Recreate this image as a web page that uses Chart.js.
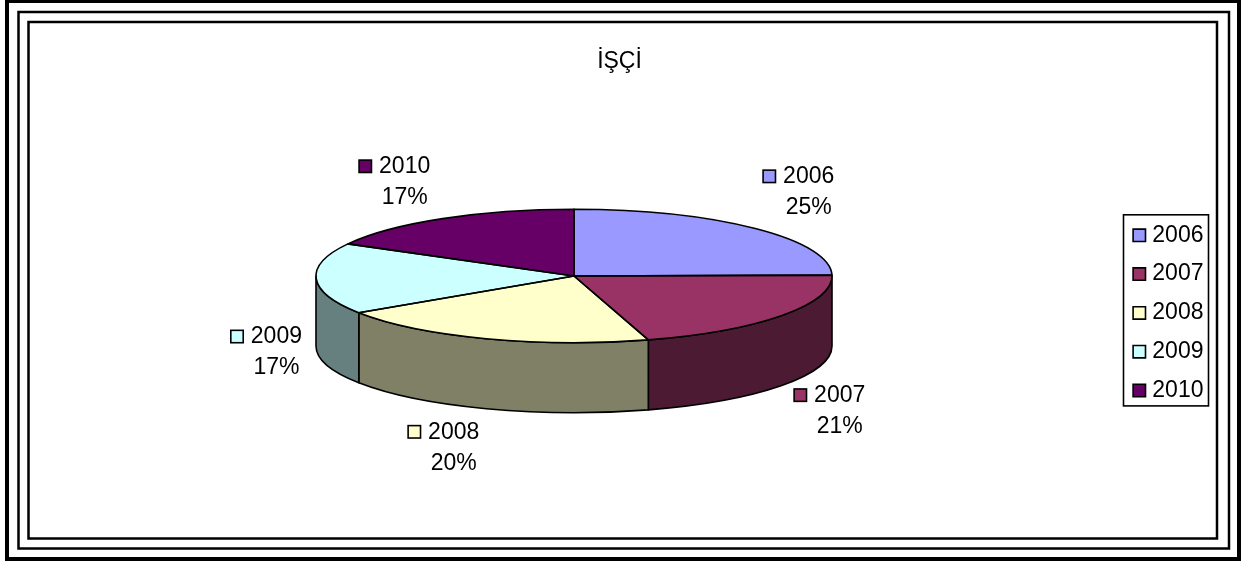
<!DOCTYPE html>
<html>
<head>
<meta charset="utf-8">
<title>İŞÇİ</title>
<script src="https://cdn.jsdelivr.net/npm/chart.js@4"></script>
<style>
  html, body { margin: 0; padding: 0; background: #fff; overflow: hidden; }
  canvas { display: block; }
</style>
</head>
<body>
<canvas id="isciChart" width="1243" height="561"></canvas>
<script>
// DATA
const categories = ['2006', '2007', '2008', '2009', '2010'];
const shares = [24.8, 20.55, 20.35, 17.3, 17];
const sliceColors = ['#9999FF', '#993366', '#FFFFCC', '#CCFFFF', '#660066'];

// label spot relative to the middle of each slice's rim
const labelOffsets = [[7.8, -52.2], [12.1, 79.7], [-78.1, 93.1], [-85.4, 57.8], [-83.6, -52.3]];

const FONT = '"Liberation Sans", Arial, sans-serif';
const FONT_SIZE = 23;
const SQUASH = 66.7 / 258; // pie tilt
const DEPTH = 70;          // pie thickness
const OUTLINE = 1.6;

// three nested frames: left, top, right, bottom, line width
const frames = [
  [7, 1, 1239, 559, 4],
  [18.5, 12, 1229, 548.5, 2.5],
  [28.5, 22, 1217, 538.5, 2.5]
];

// side walls are the slice colour at half brightness
function wallColor(hex) {
  const n = parseInt(hex.slice(1), 16);
  return 'rgb(' + (n >> 16) / 2 + ',' + ((n >> 8) & 255) / 2 + ',' + (n & 255) / 2 + ')';
}

// front part of an arc (canvas angles 0..PI), null if it faces backwards
function frontPart(start, end) {
  const twoPi = Math.PI * 2;
  let s = ((start % twoPi) + twoPi) % twoPi;
  if (s + (end - start) > twoPi) s -= twoPi;
  const e = s + (end - start);
  const a0 = Math.max(s, 0);
  const a1 = Math.min(e, Math.PI);
  return a1 > a0 ? [a0, a1] : null;
}

const pie3d = {
  id: 'pie3d',
  beforeDraw(chart) {
    const ctx = chart.ctx;
    ctx.save();
    ctx.strokeStyle = '#000';
    frames.forEach(f => {
      ctx.lineWidth = f[4];
      ctx.strokeRect(f[0], f[1], f[2] - f[0], f[3] - f[1]);
    });
    ctx.restore();

    // legend and title float free of the plot, as in the original
    const legend = chart.legend;
    legend.left = 1122;
    legend.right = 1243;
    legend.top = 208;
    legend.bottom = 561;
    const title = chart.titleBlock;
    title.left = 0;
    title.right = 1239;
    title.top = 55;
    title.bottom = title.top + title.height;
  },
  beforeDatasetsDraw(chart) {
    const ctx = chart.ctx;
    const arcs = chart.getDatasetMeta(0).data;
    ctx.save();
    ctx.strokeStyle = '#000';
    ctx.lineWidth = OUTLINE;
    ctx.lineJoin = 'round';
    arcs.forEach((arc, i) => {
      const part = frontPart(arc.startAngle, arc.endAngle);
      if (!part) return;
      const rx = arc.outerRadius;
      const ry = rx * SQUASH;
      ctx.beginPath();
      ctx.ellipse(arc.x, arc.y, rx, ry, 0, part[0], part[1]);
      ctx.ellipse(arc.x, arc.y + DEPTH, rx, ry, 0, part[1], part[0], true);
      ctx.closePath();
      ctx.fillStyle = wallColor(sliceColors[i]);
      ctx.fill();
      ctx.stroke();
    });
    ctx.restore();

    // flatten the library's own arcs
    const first = arcs[0];
    ctx.save();
    ctx.translate(first.x, first.y);
    ctx.scale(1, SQUASH);
    ctx.translate(-first.x, -first.y);
  },
  afterDatasetsDraw(chart) {
    const ctx = chart.ctx;
    ctx.restore();
    const arcs = chart.getDatasetMeta(0).data;
    ctx.save();
    ctx.strokeStyle = '#000';
    ctx.lineWidth = OUTLINE;
    ctx.lineJoin = 'round';
    arcs.forEach(arc => {
      const rx = arc.outerRadius;
      ctx.beginPath();
      ctx.moveTo(arc.x, arc.y);
      ctx.ellipse(arc.x, arc.y, rx, rx * SQUASH, 0, arc.startAngle, arc.endAngle);
      ctx.closePath();
      ctx.stroke();
    });
    ctx.restore();
  },
  afterDraw(chart) {
    const ctx = chart.ctx;
    const arcs = chart.getDatasetMeta(0).data;
    const total = shares.reduce((a, b) => a + b, 0);
    ctx.save();

    // legend frame
    ctx.strokeStyle = '#000';
    ctx.lineWidth = 1.6;
    ctx.strokeRect(1123.5, 214.8, 85, 191.1);

    // slice labels: swatch + year, percentage centred below the year
    ctx.font = FONT_SIZE + 'px ' + FONT;
    ctx.fillStyle = '#000';
    ctx.textBaseline = 'middle';
    ctx.textAlign = 'center';
    arcs.forEach((arc, i) => {
      const mid = (arc.startAngle + arc.endAngle) / 2;
      const rimX = arc.x + arc.outerRadius * Math.cos(mid);
      const rimY = arc.y + arc.outerRadius * SQUASH * Math.sin(mid);
      const x = rimX + labelOffsets[i][0];
      const y = rimY + labelOffsets[i][1];

      ctx.fillStyle = sliceColors[i];
      ctx.fillRect(x, y - 6.2, 12.4, 12.4);
      ctx.strokeRect(x, y - 6.2, 12.4, 12.4);

      const textX = x + 20 + ctx.measureText(categories[i]).width / 2;
      ctx.fillStyle = '#000';
      ctx.fillText(categories[i], textX, y + 0.5);
      ctx.fillText(Math.round(shares[i] / total * 100) + '%', textX, y + 31.5);
    });
    ctx.restore();
  }
};

const isciCtx = document.getElementById('isciChart').getContext('2d');
const isciChart = new Chart(isciCtx, {
  type: 'pie',
  data: {
    labels: categories,
    datasets: [{
      data: shares,
      backgroundColor: sliceColors,
      borderWidth: 0
    }]
  },
  options: {
    responsive: false,
    animation: false,
    layout: {
      padding: { left: 316, right: 411, top: 4.2, bottom: 27 }
    },
    plugins: {
      title: {
        display: true,
        text: 'İŞÇİ',
        color: '#000',
        padding: 0,
        font: { family: FONT, size: FONT_SIZE, weight: 'normal', lineHeight: 0.6 }
      },
      legend: {
        display: true,
        position: 'chartArea',
        align: 'start',
        labels: {
          color: '#000',
          font: { family: FONT, size: FONT_SIZE },
          usePointStyle: true,
          boxWidth: 3,
          boxHeight: 12.4,
          padding: 15.8,
          generateLabels(chart) {
            return Chart.overrides.pie.plugins.legend.labels.generateLabels(chart).map(item => {
              item.lineWidth = 1.6;
              item.strokeStyle = '#000';
              item.pointStyle = 'rect';
              return item;
            });
          }
        }
      },
      tooltip: { enabled: false }
    }
  },
  plugins: [pie3d]
});
</script>
</body>
</html>
